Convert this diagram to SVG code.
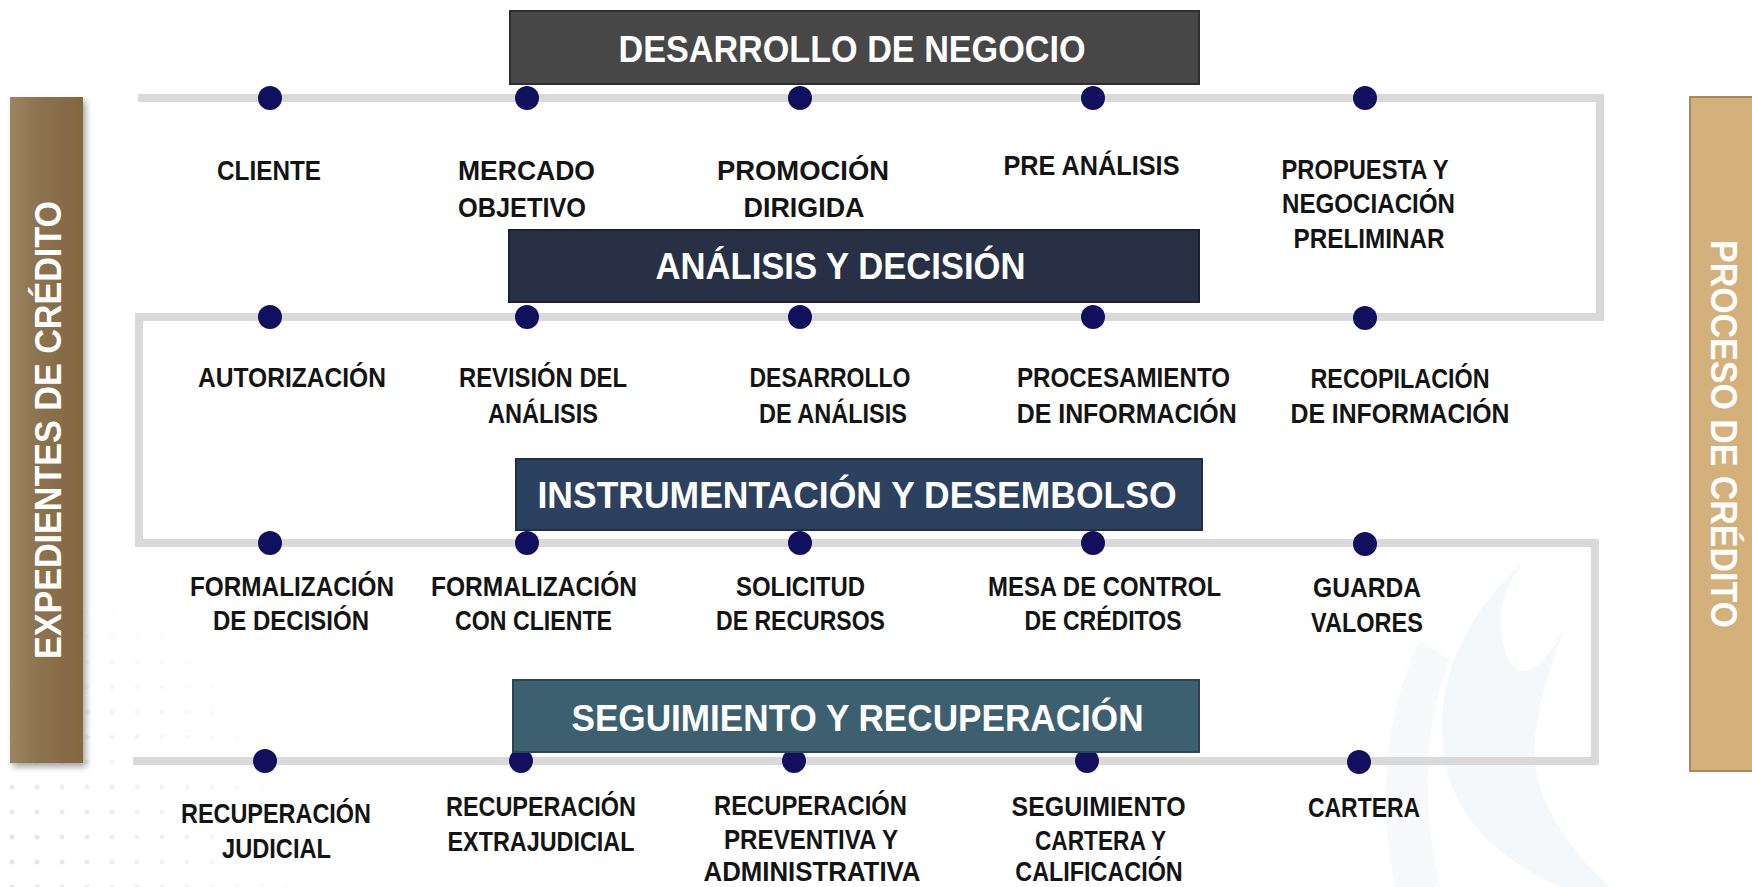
<svg xmlns="http://www.w3.org/2000/svg" width="1752" height="887" viewBox="0 0 1752 887">
<style>
.lbl{font-family:"Liberation Sans Narrow","Liberation Sans",Arial,sans-serif;font-weight:bold;font-size:28px;fill:#141414;text-anchor:middle}
.hdr{font-family:"Liberation Sans",Arial,sans-serif;font-weight:bold;font-size:37px;fill:#ffffff;text-anchor:middle}
.side{font-family:"Liberation Sans",Arial,sans-serif;font-weight:bold;font-size:37px;fill:#ffffff;text-anchor:middle}
.dot{fill:#130f5f}
.flow{fill:none;stroke:#d9d9d9;stroke-width:8;stroke-linejoin:miter}
</style>
<defs>
<linearGradient id="gLeft" x1="0" y1="0" x2="1" y2="0">
<stop offset="0" stop-color="#9d8564"/>
<stop offset="0.35" stop-color="#8d7450"/>
<stop offset="1" stop-color="#82663f"/>
</linearGradient>
<filter id="shadow" x="-30%" y="-5%" width="170%" height="115%">
<feDropShadow dx="3" dy="4" stdDeviation="3" flood-color="#000" flood-opacity="0.35"/>
</filter>
<pattern id="dots" width="25" height="25" patternUnits="userSpaceOnUse">
<circle cx="12" cy="12" r="2.5" fill="#d6d6d6"/>
</pattern>
<radialGradient id="fade" cx="0" cy="887" r="330" gradientUnits="userSpaceOnUse">
<stop offset="0" stop-color="#fff" stop-opacity="0.7"/>
<stop offset="1" stop-color="#fff" stop-opacity="0"/>
</radialGradient>
<mask id="dotMask"><rect x="0" y="560" width="400" height="327" fill="url(#fade)"/></mask>
</defs>
<rect x="0" y="0" width="1752" height="887" fill="#ffffff"/>
<g id="background">
<rect x="0" y="560" width="400" height="327" fill="url(#dots)" mask="url(#dotMask)"/>
<path d="M1525,560 C1470,610 1430,680 1445,760 C1455,820 1500,860 1560,887 L1610,887 C1560,840 1530,790 1535,740 C1540,690 1560,640 1575,600 C1560,650 1520,700 1505,650 C1495,610 1505,585 1525,560 Z" fill="#f5f8fb"/>
<path d="M1420,640 C1390,700 1375,790 1395,887 L1440,887 C1420,800 1425,720 1450,660 Z" fill="#f7f9fb"/>
</g>
<g id="connectors">
<path class="flow" d="M138,98 H1600 V317 H139 V543 H1595 V761 H133"/>
</g>
<g id="bar-left">
<rect x="10" y="97" width="73" height="666" fill="url(#gLeft)" filter="url(#shadow)"/>
<text class="side" transform="translate(61,430) rotate(-90)" textLength="458" lengthAdjust="spacingAndGlyphs">EXPEDIENTES DE CRÉDITO</text>
</g>
<g id="bar-right">
<rect x="1690" y="97" width="70" height="674" fill="#d4b07a" stroke="#a88a5c" stroke-width="2"/>
<text class="side" transform="translate(1711,434) rotate(90)" textLength="388" lengthAdjust="spacingAndGlyphs">PROCESO DE CRÉDITO</text>
</g>
<g id="n-cliente"><circle class="dot" cx="270" cy="98" r="12"/><text class="lbl" x="269" y="180" textLength="104" lengthAdjust="spacingAndGlyphs">CLIENTE</text></g>
<g id="n-mercado"><circle class="dot" cx="527" cy="98" r="12"/><text class="lbl" x="526.5" y="180" textLength="137" lengthAdjust="spacingAndGlyphs">MERCADO</text><text class="lbl" x="522" y="217" textLength="128" lengthAdjust="spacingAndGlyphs">OBJETIVO</text></g>
<g id="n-promocion"><circle class="dot" cx="800" cy="98" r="12"/><text class="lbl" x="803" y="179.5" textLength="172" lengthAdjust="spacingAndGlyphs">PROMOCIÓN</text><text class="lbl" x="804" y="217" textLength="121" lengthAdjust="spacingAndGlyphs">DIRIGIDA</text></g>
<g id="n-preanalisis"><circle class="dot" cx="1093" cy="98" r="12"/><text class="lbl" x="1091.5" y="175" textLength="176" lengthAdjust="spacingAndGlyphs">PRE ANÁLISIS</text></g>
<g id="n-propuesta"><circle class="dot" cx="1365" cy="98" r="12"/><text class="lbl" x="1365" y="178.5" textLength="167" lengthAdjust="spacingAndGlyphs">PROPUESTA Y</text><text class="lbl" x="1368.5" y="213" textLength="173" lengthAdjust="spacingAndGlyphs">NEGOCIACIÓN</text><text class="lbl" x="1369" y="248" textLength="151" lengthAdjust="spacingAndGlyphs">PRELIMINAR</text></g>
<g id="n-autorizacion"><circle class="dot" cx="270" cy="317" r="12"/><text class="lbl" x="292" y="387" textLength="188" lengthAdjust="spacingAndGlyphs">AUTORIZACIÓN</text></g>
<g id="n-revision"><circle class="dot" cx="527" cy="317" r="12"/><text class="lbl" x="543" y="387" textLength="168" lengthAdjust="spacingAndGlyphs">REVISIÓN DEL</text><text class="lbl" x="543" y="422.5" textLength="110" lengthAdjust="spacingAndGlyphs">ANÁLISIS</text></g>
<g id="n-desarrollo"><circle class="dot" cx="800" cy="317" r="12"/><text class="lbl" x="830" y="387" textLength="161" lengthAdjust="spacingAndGlyphs">DESARROLLO</text><text class="lbl" x="833" y="422.5" textLength="148" lengthAdjust="spacingAndGlyphs">DE ANÁLISIS</text></g>
<g id="n-procesamiento"><circle class="dot" cx="1093" cy="317" r="12"/><text class="lbl" x="1123.5" y="387" textLength="213" lengthAdjust="spacingAndGlyphs">PROCESAMIENTO</text><text class="lbl" x="1126.7" y="422.5" textLength="220" lengthAdjust="spacingAndGlyphs">DE INFORMACIÓN</text></g>
<g id="n-recopilacion"><circle class="dot" cx="1365" cy="318" r="12"/><text class="lbl" x="1400" y="388" textLength="179" lengthAdjust="spacingAndGlyphs">RECOPILACIÓN</text><text class="lbl" x="1400" y="423" textLength="219" lengthAdjust="spacingAndGlyphs">DE INFORMACIÓN</text></g>
<g id="n-formalizacion-decision"><circle class="dot" cx="270" cy="543" r="12"/><text class="lbl" x="292" y="595.5" textLength="204" lengthAdjust="spacingAndGlyphs">FORMALIZACIÓN</text><text class="lbl" x="291" y="630" textLength="156" lengthAdjust="spacingAndGlyphs">DE DECISIÓN</text></g>
<g id="n-formalizacion-cliente"><circle class="dot" cx="527" cy="543" r="12"/><text class="lbl" x="534" y="595.5" textLength="206" lengthAdjust="spacingAndGlyphs">FORMALIZACIÓN</text><text class="lbl" x="533.5" y="630" textLength="157" lengthAdjust="spacingAndGlyphs">CON CLIENTE</text></g>
<g id="n-solicitud"><circle class="dot" cx="800" cy="543" r="12"/><text class="lbl" x="800.5" y="595.5" textLength="129" lengthAdjust="spacingAndGlyphs">SOLICITUD</text><text class="lbl" x="800.5" y="630" textLength="169" lengthAdjust="spacingAndGlyphs">DE RECURSOS</text></g>
<g id="n-mesa"><circle class="dot" cx="1093" cy="543" r="12"/><text class="lbl" x="1104.5" y="595.5" textLength="233" lengthAdjust="spacingAndGlyphs">MESA DE CONTROL</text><text class="lbl" x="1103" y="630" textLength="157" lengthAdjust="spacingAndGlyphs">DE CRÉDITOS</text></g>
<g id="n-guarda"><circle class="dot" cx="1365" cy="544" r="12"/><text class="lbl" x="1367" y="597" textLength="108" lengthAdjust="spacingAndGlyphs">GUARDA</text><text class="lbl" x="1367" y="632" textLength="112" lengthAdjust="spacingAndGlyphs">VALORES</text></g>
<g id="n-judicial"><circle class="dot" cx="265" cy="761" r="12"/><text class="lbl" x="276" y="823" textLength="190" lengthAdjust="spacingAndGlyphs">RECUPERACIÓN</text><text class="lbl" x="276.5" y="857.5" textLength="109" lengthAdjust="spacingAndGlyphs">JUDICIAL</text></g>
<g id="n-extrajudicial"><circle class="dot" cx="521" cy="761" r="12"/><text class="lbl" x="541" y="815.6" textLength="190" lengthAdjust="spacingAndGlyphs">RECUPERACIÓN</text><text class="lbl" x="541" y="851" textLength="187" lengthAdjust="spacingAndGlyphs">EXTRAJUDICIAL</text></g>
<g id="n-preventiva"><circle class="dot" cx="794" cy="761" r="12"/><text class="lbl" x="810.5" y="815" textLength="193" lengthAdjust="spacingAndGlyphs">RECUPERACIÓN</text><text class="lbl" x="811" y="849" textLength="174" lengthAdjust="spacingAndGlyphs">PREVENTIVA Y</text><text class="lbl" x="812" y="881" textLength="217" lengthAdjust="spacingAndGlyphs">ADMINISTRATIVA</text></g>
<g id="n-seguimiento"><circle class="dot" cx="1087" cy="761" r="12"/><text class="lbl" x="1098.6" y="816" textLength="174" lengthAdjust="spacingAndGlyphs">SEGUIMIENTO</text><text class="lbl" x="1100.5" y="849.5" textLength="131" lengthAdjust="spacingAndGlyphs">CARTERA Y</text><text class="lbl" x="1099" y="881" textLength="167.5" lengthAdjust="spacingAndGlyphs">CALIFICACIÓN</text></g>
<g id="n-cartera"><circle class="dot" cx="1359" cy="762" r="12"/><text class="lbl" x="1364" y="817" textLength="112" lengthAdjust="spacingAndGlyphs">CARTERA</text></g>
<g id="h-desarrollo"><rect x="510" y="11" width="689" height="73" fill="#474747" stroke="#2f2f2f" stroke-width="2"/><text class="hdr" x="852" y="62" textLength="467" lengthAdjust="spacingAndGlyphs">DESARROLLO DE NEGOCIO</text></g>
<g id="h-analisis"><rect x="509" y="230" width="690" height="72" fill="#283045" stroke="#1b2132" stroke-width="2"/><text class="hdr" x="840.5" y="279" textLength="370" lengthAdjust="spacingAndGlyphs">ANÁLISIS Y DECISIÓN</text></g>
<g id="h-instrumentacion"><rect x="516" y="459" width="686" height="71" fill="#2c405f" stroke="#1f2f47" stroke-width="2"/><text class="hdr" x="857" y="508" textLength="639" lengthAdjust="spacingAndGlyphs">INSTRUMENTACIÓN Y DESEMBOLSO</text></g>
<g id="h-seguimiento"><rect x="513" y="680" width="686" height="72" fill="#3d6070" stroke="#2c4753" stroke-width="2"/><text class="hdr" x="857.5" y="731" textLength="572" lengthAdjust="spacingAndGlyphs">SEGUIMIENTO Y RECUPERACIÓN</text></g>
</svg>
